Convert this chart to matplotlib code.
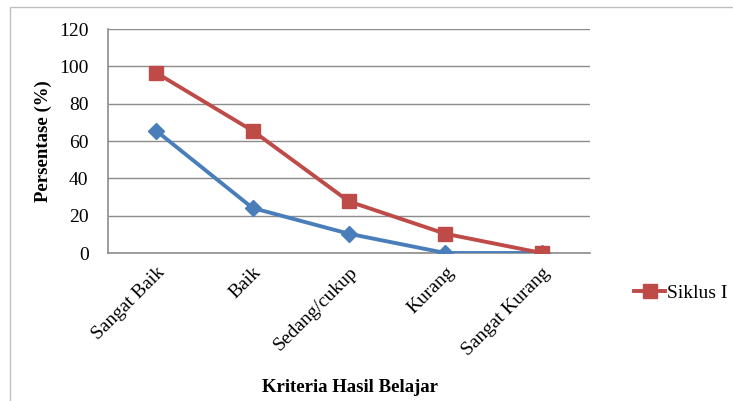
import matplotlib.pyplot as plt
from matplotlib.patches import Rectangle

kriteria = ['Sangat Baik', 'Baik', 'Sedang/cukup', 'Kurang', 'Sangat Kurang']
pra_siklus = [65.5, 24.1, 10.3, 0, 0]
siklus_1 = [96.5, 65.5, 27.6, 10.3, 0]
y_ticks = [0, 20, 40, 60, 80, 100, 120]

plt.rcParams['font.family'] = ['Liberation Serif', 'DejaVu Serif']

fig = plt.figure(figsize=(7.33, 4.01), dpi=100)
fig.patches.append(Rectangle((10 / 733, -0.05), 1.2, 1 - 7 / 401 + 0.05,
                             transform=fig.transFigure, fill=False,
                             edgecolor='#bfbfbf', linewidth=1))

ax = fig.add_axes([108 / 733, 1 - 253 / 401, 482 / 733, 224 / 401])
x = [i + 0.5 for i in range(len(kriteria))]

ax.plot(x, pra_siklus, color='#4a7ebb', linewidth=2.8, marker='D',
        markersize=8, label='Pra Siklus', zorder=3)
ax.plot(x, siklus_1, color='#be4b48', linewidth=2.8, marker='s',
        markersize=10, label='Siklus I', zorder=4)

ax.set_xlim(0, 5)
ax.set_ylim(0, 120)
ax.set_yticks(y_ticks)
ax.tick_params(axis='y', labelsize=14, length=0, pad=14)
ax.set_xticks(x)
ax.set_xticklabels(kriteria, rotation=45, ha='right', rotation_mode='anchor',
                   fontsize=14)
ax.tick_params(axis='x', length=0, pad=8)
ax.grid(axis='y', color='#8c8c8c', linewidth=1)
ax.set_axisbelow(True)
for s in ['top', 'right']:
    ax.spines[s].set_visible(False)
ax.spines['left'].set_color('#8c8c8c')
ax.spines['bottom'].set_color('#8c8c8c')
ax.spines['left'].set_linewidth(1.2)
ax.spines['bottom'].set_linewidth(1.2)

ax.set_ylabel('Persentase (%)', fontsize=13.5, fontweight='bold', labelpad=5)
fig.text(350 / 733, 1 - 388 / 401, 'Kriteria Hasil Belajar', fontsize=13.5,
         fontweight='bold', ha='center', va='center')

h, l = ax.get_legend_handles_labels()
fig.legend([h[1]], [l[1]], loc='center left', bbox_to_anchor=(634 / 733, 1 - 293 / 401),
           frameon=False, fontsize=14, handlelength=1.6, handletextpad=0.1,
           borderpad=0, borderaxespad=0)

fig.savefig('out.png', dpi=100)
